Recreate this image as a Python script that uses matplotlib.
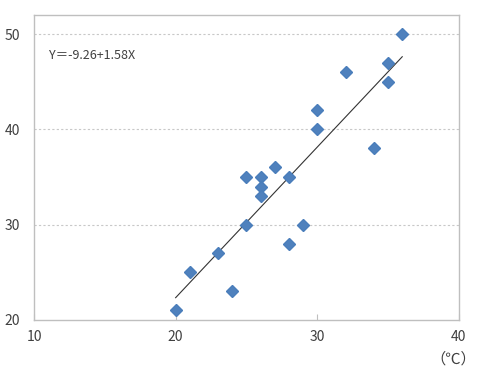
import numpy as np
import matplotlib.pyplot as plt

plt.rcParams['font.family'] = ['Noto Sans CJK JP', 'DejaVu Sans']

# 気温 (℃) と値
temp = [20, 21, 23, 24, 25, 25, 26, 26, 26, 27, 28, 28, 29, 30, 30, 32, 34, 35, 35, 36]
value = [21, 25, 27, 23, 35, 30, 35, 34, 33, 36, 35, 28, 30, 42, 40, 46, 38, 47, 45, 50]
intercept = -9.26
slope = 1.58
x_ticks = [10, 20, 30, 40]
y_ticks = [20, 30, 40, 50]

fig = plt.figure(figsize=(4.81, 3.74), dpi=100)
ax = fig.add_axes([0.0707, 0.1444, 0.8833, 0.8155])

ax.set_xlim(10, 40)
ax.set_ylim(20, 52)
ax.set_xticks(x_ticks)
ax.set_yticks(y_ticks)

for y in y_ticks[1:]:
    ax.axhline(y, color='#c8c8c8', lw=0.8, ls=(0, (2, 2)), zorder=0)

# 回帰直線
xl = np.array([min(temp), max(temp)])
ax.plot(xl, intercept + slope * xl, color='#333333', lw=0.8, zorder=2)

ax.plot(temp, value, 'D', color='#4f81bd', markersize=6.2, mec='#4a7ebb', zorder=3)

for s in ax.spines.values():
    s.set_color('#bfbfbf')
    s.set_linewidth(1.0)

ax.tick_params(axis='x', direction='in', length=4, color='#bfbfbf', pad=7,
               labelsize=10, labelcolor='#404040')
ax.tick_params(axis='y', length=0, pad=10, labelsize=10, labelcolor='#404040')

ax.text(0.035, 0.866, 'Y＝-9.26+1.58X', transform=ax.transAxes, fontsize=9,
        color='#404040', va='center', ha='left')
fig.text(0.99, 0.04, '（℃）', fontsize=11, color='#404040', ha='right', va='center')

fig.savefig('out.png', dpi=100)
